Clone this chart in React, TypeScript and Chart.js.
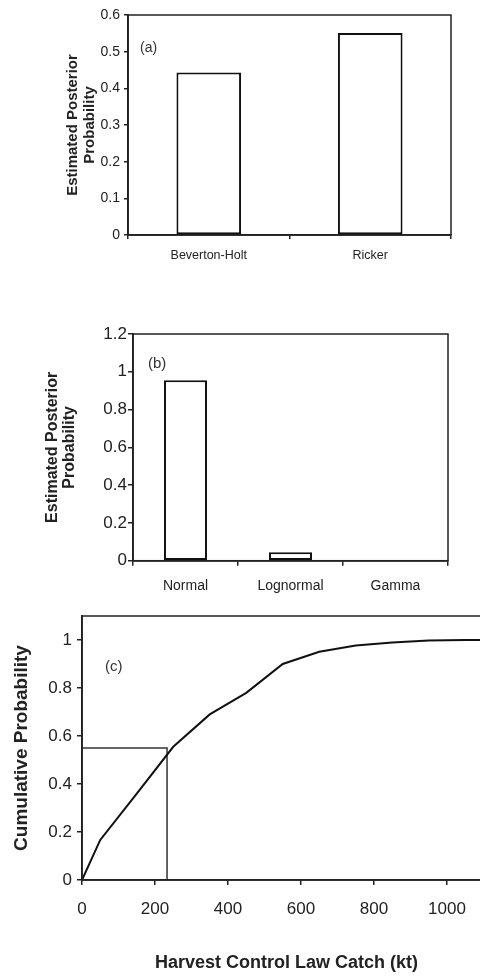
import React, { useEffect, useRef } from "react";
import { Chart, registerables } from "chart.js";

Chart.register(...registerables);

// ---- Panel (a): stock-recruit model posterior ----
const modelCats = ["Beverton-Holt", "Ricker"];
const modelProb = [0.443, 0.551];
const yTicksA = [0, 0.1, 0.2, 0.3, 0.4, 0.5, 0.6];

// ---- Panel (b): error distribution posterior ----
const errCats = ["Normal", "Lognormal", "Gamma"];
const errProb = [0.955, 0.045, 0];
const yTicksB = [0, 0.2, 0.4, 0.6, 0.8, 1, 1.2];

// ---- Panel (c): cumulative probability of catch ----
const catchKt = [0, 50, 150, 250, 350, 450, 550, 650, 750, 850, 950, 1050, 1150];
const cumProb = [0, 0.167, 0.36, 0.555, 0.69, 0.78, 0.9, 0.951, 0.977, 0.99, 0.998, 1.0, 1.0];
const refX = [0, 233, 233];
const refY = [0.55, 0.55, 0];
const xTicksC = [0, 200, 400, 600, 800, 1000];
const yTicksC = [0, 0.2, 0.4, 0.6, 0.8, 1];

const FONT = 'Arial, "Liberation Sans", Helvetica, sans-serif';
const INK = "#222";
const AXW = 1.8;

function framePlugin(label: string, dx: number, yVal: number, size: number) {
  return {
    id: "frameAndLabel",
    afterDatasetsDraw(chart: any) {
      const { ctx, chartArea } = chart;
      const { left, top, right, bottom } = chartArea;
      ctx.save();
      ctx.strokeStyle = INK;
      ctx.lineWidth = 1.5;
      ctx.strokeRect(left, top, right - left, bottom - top);
      ctx.fillStyle = "#333";
      ctx.font = `${size}px ${FONT}`;
      ctx.textAlign = "left";
      ctx.textBaseline = "middle";
      ctx.fillText(label, left + dx, chart.scales.y.getPixelForValue(yVal));
      ctx.restore();
    },
  };
}

function tickSetter(values: number[]) {
  return (s: any) => {
    s.ticks = values.map((v) => ({ value: v }));
  };
}

function useChart(ref: React.RefObject<HTMLCanvasElement | null>, make: () => any) {
  useEffect(() => {
    if (!ref.current) return;
    const chart = new Chart(ref.current, make());
    return () => chart.destroy();
  }, []);
}

function configA() {
  return {
    type: "bar",
    data: {
      labels: modelCats,
      datasets: [
        {
          data: modelProb,
          backgroundColor: "#fff",
          borderColor: "#111",
          borderWidth: 2,
          borderSkipped: false,
          categoryPercentage: 1,
          barPercentage: 0.4,
        },
      ],
    },
    options: {
      animation: false,
      responsive: false,
      layout: { padding: { top: 15, right: 29, left: 0, bottom: 0 } },
      plugins: { legend: { display: false }, tooltip: { enabled: false } },
      scales: {
        x: {
          grid: { drawOnChartArea: false, tickLength: 4, color: INK, lineWidth: 1.5 },
          border: { display: true, color: INK, width: AXW },
          ticks: { font: { size: 12.5, family: FONT }, color: INK, padding: 9, maxRotation: 0 },
          afterFit: (s: any) => {
            s.height = 45;
          },
        },
        y: {
          min: 0,
          max: 0.6,
          afterBuildTicks: tickSetter(yTicksA),
          grid: { drawOnChartArea: false, tickLength: 4, color: INK, lineWidth: 1.5 },
          border: { display: true, color: INK, width: AXW },
          ticks: { font: { size: 14, family: FONT }, color: INK, padding: 4, callback: (v: any) => String(v) },
          title: {
            display: true,
            text: ["Estimated Posterior", "Probability"],
            font: { size: 15, weight: "bold", family: FONT, lineHeight: 1.13 },
            color: INK,
            padding: { top: 64.5, bottom: 0 },
          },
          afterFit: (s: any) => {
            s.width = 128;
          },
        },
      },
    },
    plugins: [framePlugin("(a)", 12, 0.51, 14)],
  };
}

function configB() {
  return {
    type: "bar",
    data: {
      labels: errCats,
      datasets: [
        {
          data: errProb,
          backgroundColor: "#fff",
          borderColor: "#111",
          borderWidth: 2,
          borderSkipped: false,
          categoryPercentage: 1,
          barPercentage: 0.41,
        },
      ],
    },
    options: {
      animation: false,
      responsive: false,
      layout: { padding: { top: 34, right: 32, left: 0, bottom: 0 } },
      plugins: { legend: { display: false }, tooltip: { enabled: false } },
      scales: {
        x: {
          grid: { drawOnChartArea: false, tickLength: 5, color: INK, lineWidth: 1.5 },
          border: { display: true, color: INK, width: AXW },
          ticks: { font: { size: 14, family: FONT }, color: INK, padding: 12, maxRotation: 0 },
          afterFit: (s: any) => {
            s.height = 39.3;
          },
        },
        y: {
          min: 0,
          max: 1.2,
          afterBuildTicks: tickSetter(yTicksB),
          grid: { drawOnChartArea: false, tickLength: 5, color: INK, lineWidth: 1.5 },
          border: { display: true, color: INK, width: AXW },
          ticks: { font: { size: 17, family: FONT }, color: INK, padding: 1, callback: (v: any) => String(v) },
          title: {
            display: true,
            text: ["Estimated Posterior", "Probability"],
            font: { size: 16, weight: "bold", family: FONT, lineHeight: 1.06 },
            color: INK,
            padding: { top: 44.5, bottom: 0 },
          },
          afterFit: (s: any) => {
            s.width = 133;
          },
        },
      },
    },
    plugins: [framePlugin("(b)", 15, 1.04, 15)],
  };
}

function configC() {
  return {
    type: "line",
    data: {
      datasets: [
        {
          data: catchKt.map((x, i) => ({ x, y: cumProb[i] })),
          borderColor: "#111",
          borderWidth: 2,
          pointRadius: 0,
          fill: false,
          tension: 0,
        },
        {
          data: refX.map((x, i) => ({ x, y: refY[i] })),
          borderColor: "#333",
          borderWidth: 1.5,
          pointRadius: 0,
          fill: false,
          tension: 0,
        },
      ],
    },
    options: {
      animation: false,
      responsive: false,
      layout: { padding: { top: 16, right: 9.2, left: 0, bottom: 0 } },
      plugins: { legend: { display: false }, tooltip: { enabled: false } },
      scales: {
        x: {
          type: "linear",
          min: 0,
          max: 1120,
          afterBuildTicks: tickSetter(xTicksC),
          grid: { drawOnChartArea: false, tickLength: 5, color: INK, lineWidth: 1.5 },
          border: { display: true, color: INK, width: AXW },
          ticks: { font: { size: 17, family: FONT }, color: INK, padding: 14, maxRotation: 0, callback: (v: any) => String(v) },
          title: {
            display: true,
            text: "Harvest Control Law Catch (kt)",
            font: { size: 18, weight: "bold", family: FONT, lineHeight: 1.2 },
            color: INK,
            padding: { top: 0, bottom: 5.2 },
          },
          afterFit: (s: any) => {
            s.height = 99;
          },
        },
        y: {
          min: 0,
          max: 1.1,
          afterBuildTicks: tickSetter(yTicksC),
          grid: { drawOnChartArea: false, tickLength: 5, color: INK, lineWidth: 1.5 },
          border: { display: true, color: INK, width: AXW },
          ticks: { font: { size: 17, family: FONT }, color: INK, padding: 5, callback: (v: any) => String(v) },
          title: {
            display: true,
            text: "Cumulative Probability",
            font: { size: 19, weight: "bold", family: FONT, lineHeight: 1.2 },
            color: INK,
            padding: { top: 10.6, bottom: 0 },
          },
          afterFit: (s: any) => {
            s.width = 82;
          },
        },
      },
    },
    plugins: [framePlugin("(c)", 23, 0.89, 15)],
  };
}

export default function App() {
  const refA = useRef<HTMLCanvasElement>(null);
  const refB = useRef<HTMLCanvasElement>(null);
  const refC = useRef<HTMLCanvasElement>(null);
  useChart(refA, configA);
  useChart(refB, configB);
  useChart(refC, configC);

  const abs = (top: number, w: number, h: number): React.CSSProperties => ({
    position: "absolute",
    left: 0,
    top,
    width: w,
    height: h,
    display: "block",
  });

  return (
    <div
      style={{
        position: "absolute",
        left: 0,
        top: 0,
        width: 480,
        height: 979,
        overflow: "hidden",
        background: "#fff",
      }}
    >
      <canvas ref={refA} width={480} height={280} style={abs(0, 480, 280)} />
      <canvas ref={refB} width={480} height={300} style={abs(300, 480, 300)} />
      <canvas ref={refC} width={500} height={379} style={abs(600, 500, 379)} />
    </div>
  );
}
